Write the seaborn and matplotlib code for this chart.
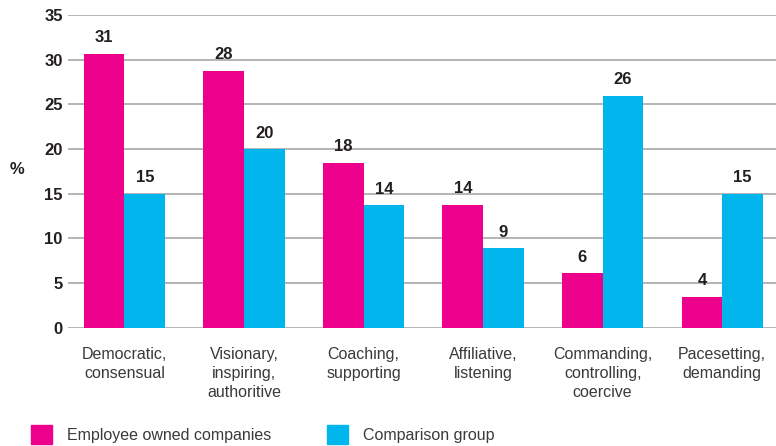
import matplotlib
matplotlib.use("Agg")
import matplotlib.pyplot as plt
import matplotlib.patches as mpatches
import pandas as pd
import seaborn as sns

# Leadership styles (x categories)
categories = [
    "Democratic,\nconsensual",
    "Visionary,\ninspiring,\nauthoritive",
    "Coaching,\nsupporting",
    "Affiliative,\nlistening",
    "Commanding,\ncontrolling,\ncoercive",
    "Pacesetting,\ndemanding",
]
series_names = ["Employee owned companies", "Comparison group"]

# bar heights (%)
employee_owned = [30.7, 28.8, 18.5, 13.8, 6.1, 3.5]
comparison = [15.0, 20.0, 13.7, 8.9, 26.0, 15.0]

# printed labels above the bars (as shown in the source)
employee_labels = ["31", "28", "18", "14", "6", "4"]
comparison_labels = ["15", "20", "14", "9", "26", "15"]

y_ticks = [0, 5, 10, 15, 20, 25, 30, 35]

PINK = "#EC008C"
BLUE = "#00B6EC"
DARK = "#231f20"

df = pd.DataFrame({
    "style": categories * 2,
    "group": [series_names[0]] * len(categories) + [series_names[1]] * len(categories),
    "value": employee_owned + comparison,
})

sns.set_style("white")
plt.rcParams["font.family"] = ["Liberation Sans", "DejaVu Sans"]

fig = plt.figure(figsize=(7.76, 4.46), dpi=100)
ax = fig.add_axes([0.088, 0.265, 0.912, 0.701])

sns.barplot(data=df, x="style", y="value", hue="group", order=categories,
            hue_order=series_names, palette=[PINK, BLUE], width=0.68, gap=0,
            saturation=1, linewidth=0, legend=False, ax=ax)

for container, labels in zip(ax.containers, [employee_labels, comparison_labels]):
    ax.bar_label(container, labels=labels, padding=6, fontsize=12,
                 fontweight="bold", color=DARK)

ax.set_ylim(0, 35)
ax.set_xlim(-0.47, 5.45)
ax.set_yticks(y_ticks)
ax.set_yticklabels([str(t) for t in y_ticks], fontsize=12, fontweight="bold",
                   color=DARK)
ax.grid(axis="y", color="#a0a0a0", linewidth=1.1)
ax.set_axisbelow(True)
for s in ax.spines.values():
    s.set_visible(False)
ax.tick_params(axis="y", length=0, pad=4)
ax.tick_params(axis="x", length=0, pad=14, labelsize=11.5, labelcolor="#3a3a3a")
for lab in ax.get_xticklabels():
    lab.set_linespacing(1.32)
ax.set_xlabel("")
ax.set_ylabel("")

fig.text(0.022, 0.62, "%", fontsize=12, fontweight="bold", color=DARK,
         va="center", ha="center")

handles = [mpatches.Patch(color=PINK), mpatches.Patch(color=BLUE)]
fig.legend(handles, series_names, loc="lower left", bbox_to_anchor=(0.04, 0.004),
           ncol=2, frameon=False, fontsize=11.5, handlelength=1.3, handleheight=1.5,
           handletextpad=0.95, columnspacing=3.5, borderpad=0, borderaxespad=0,
           labelcolor="#3a3a3a")

fig.savefig("out.png", dpi=100)
